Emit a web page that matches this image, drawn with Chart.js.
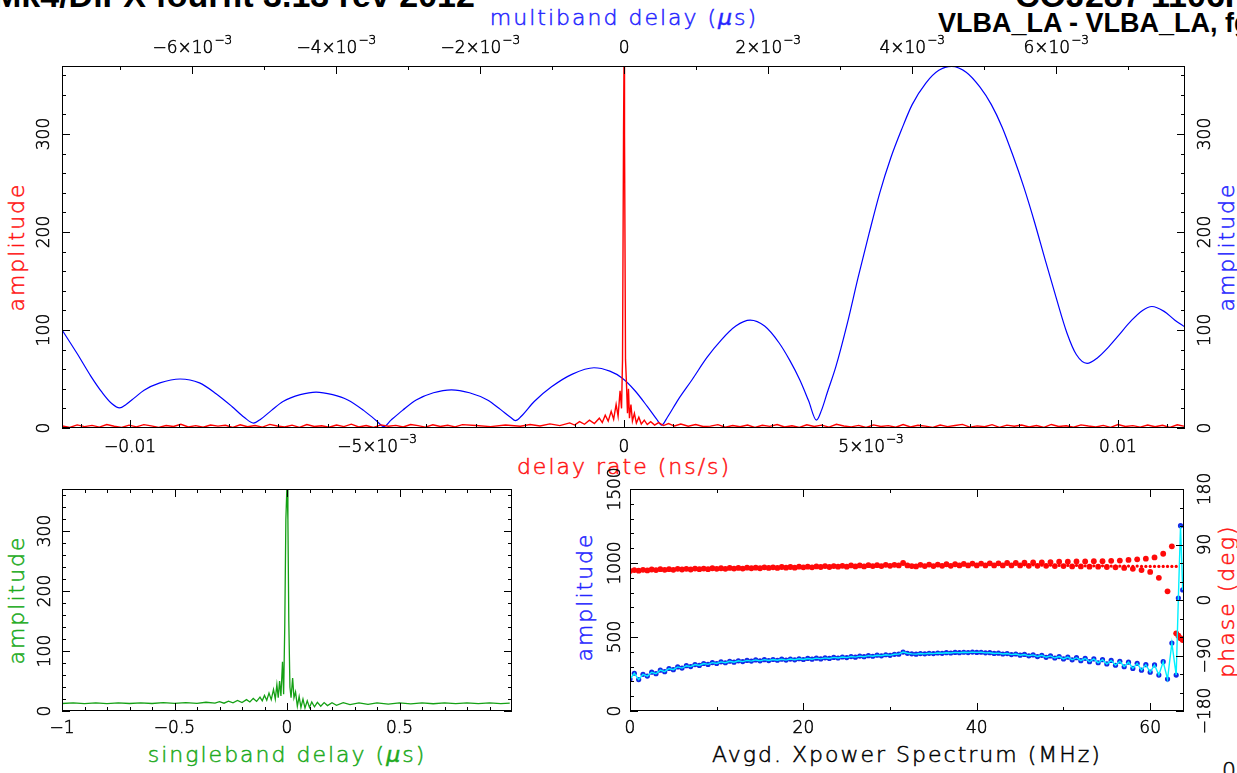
<!DOCTYPE html>
<html><head><meta charset="utf-8">
<script src="https://cdn.jsdelivr.net/npm/chart.js@4.4.1/dist/chart.umd.min.js"></script>
<style>
html,body{margin:0;padding:0;background:#fff;}
body{width:1237px;height:773px;overflow:hidden;position:relative;font-family:"DejaVu Sans",sans-serif;}
canvas{position:absolute;left:0;top:0;}
.t{position:absolute;white-space:nowrap;font-size:22px;line-height:22px;letter-spacing:2px;font-weight:200;-webkit-text-stroke:0.5px currentColor;}
.h{transform:translateX(-50%);}
.r{transform:translate(-50%,-50%) rotate(-90deg);}
.title{position:absolute;white-space:nowrap;font-family:"Liberation Sans",Arial,sans-serif;font-weight:bold;color:#000;}
</style></head>
<body>
<div class="title" style="left:-7px;top:-22px;font-size:34px;line-height:34px;">Mk4/DiFX fourfit 3.13 rev 2012</div>
<div class="title" style="left:1015px;top:-22px;font-size:34px;line-height:34px;">COJ287 1106F CH</div>
<div class="title" style="left:938px;top:10px;font-size:27px;line-height:27px;">VLBA_LA - VLBA_LA, fg</div>
<div class="t h" style="left:624px;top:7px;color:#2626ff;">multiband delay (<i>µ</i>s)</div>
<div class="t h" style="left:624px;top:456px;color:#ff1414;">delay rate (ns/s)</div>
<div class="t r" style="left:17px;top:247px;color:#ff1414;">amplitude</div>
<div class="t r" style="left:1227px;top:247px;color:#2626ff;">amplitude</div>
<div class="t r" style="left:17px;top:600px;color:#20aa20;">amplitude</div>
<div class="t h" style="left:287px;top:744px;color:#20aa20;">singleband delay (<i>µ</i>s)</div>
<div class="t r" style="left:585px;top:597px;color:#2626ff;">amplitude</div>
<div class="t h" style="left:907px;top:744px;color:#000;">Avgd. Xpower Spectrum (MHz)</div>
<div class="t r" style="left:1227px;top:601px;color:#ff1414;">phase (deg)</div>
<div class="t" style="left:1222px;top:760px;color:#000;">09</div>
<canvas id="cTop" width="1237" height="773"></canvas>
<canvas id="cSbd" width="1237" height="773"></canvas>
<canvas id="cSpec" width="1237" height="773"></canvas>
<script>
// ---------------- DATA ----------------
// delay rate function (red), x in ns/s; regular sampling on the flanks, finer near the peak
const rateFloorLeftX = Array.from({length:55},(_,i)=>-0.01137+i*0.00015);
const rateFloorLeftAmp = [2.1,0.6,3.2,1.4,2.7,0.9,3.6,1.8,0.5,2.9,1.2,3.4,2.2,0.7,2.6,1.5,3.8,1.0,2.4,0.8,3.1,1.9,2.8,0.6,3.3,1.3,2.5,0.9,3.7,2.0,1.1,2.9,0.7,3.5,1.6,2.3,0.8,3.0,1.4,3.9,1.0,2.6,0.6,3.2,1.8,2.7,1.1,3.6,2.4,0.9,3.3,1.5,2.8,1.2,3.4];
const rateCoreX = [-0.0030,-0.0027,-0.0024,-0.0021,-0.0019,-0.0017,-0.0015,-0.0013,-0.0011,-0.0010,-0.0009,-0.0008,-0.0007,-0.0006,-0.0005,-0.00044,-0.00038,-0.00032,-0.00026,-0.00021,-0.00016,-0.00012,-0.00008,-0.00005,-0.00003,-0.00001,
 0,0.00001,0.00003,0.00005,0.00007,0.00009,0.00011,0.00014,0.00017,0.00021,0.00025,0.00030,0.00035,0.00041,0.00047,0.00054,0.00062,0.00070,0.00080,0.00090,0.00102,0.00115,0.00130,0.00145,0.0016];
const rateCoreAmp = [2.5,1.4,3.0,1.8,3.6,2.0,4.2,2.4,5.2,3.0,6.5,3.8,8.0,4.5,10,5.5,13,7,17,9,24,12,38,20,70,300,
 375,300,70,45,15,40,10,24,7,15,5,11,4,8,3.5,6.5,3,5.5,2.5,4.5,2,4,1.8,3.5,1.5];
const rateFloorRightX = Array.from({length:65},(_,i)=>0.00175+i*0.00015);
const rateFloorRightAmp = [1.9,3.4,0.8,2.6,1.3,3.1,0.6,2.8,1.7,3.6,1.0,2.3,0.7,3.3,1.5,2.9,0.9,3.8,2.0,1.2,2.7,0.5,3.2,1.6,2.4,0.8,3.5,1.1,2.8,1.9,0.6,3.0,1.4,2.5,3.7,0.9,2.2,1.3,3.4,0.7,2.9,1.8,3.1,1.0,2.6,0.6,3.6,1.5,2.3,0.8,3.2,2.0,1.1,2.7,0.7,3.5,1.6,2.4,0.9,3.0,1.3,2.8,0.6,3.3,1.7];
const rateX = rateFloorLeftX.concat(rateCoreX, rateFloorRightX);
const rateAmp = rateFloorLeftAmp.concat(rateCoreAmp, rateFloorRightAmp);
// multiband delay function (blue), x in microseconds
const mbdX = [-7.80e-3,-7.60e-3,-7.41e-3,-7.25e-3,-7.12e-3,-7.01e-3,-6.92e-3,-6.80e-3,-6.67e-3,-6.45e-3,-6.17e-3,-5.90e-3,-5.67e-3,-5.45e-3,-5.28e-3,-5.15e-3,-5.05e-3,-4.90e-3,-4.74e-3,-4.50e-3,-4.28e-3,-4.05e-3,-3.84e-3,-3.62e-3,-3.45e-3,-3.34e-3,-3.24e-3,-3.08e-3,-2.89e-3,-2.65e-3,-2.40e-3,-2.15e-3,-1.90e-3,-1.72e-3,-1.58e-3,-1.51e-3,-1.43e-3,-1.25e-3,-1.01e-3,-0.72e-3,-0.42e-3,-0.20e-3,-0.03e-3,
 0.15e-3,0.32e-3,0.45e-3,0.52e-3,0.60e-3,0.75e-3,0.94e-3,1.15e-3,1.35e-3,1.55e-3,1.75e-3,1.95e-3,2.15e-3,2.30e-3,2.44e-3,2.56e-3,2.67e-3,2.74e-3,2.82e-3,2.94e-3,3.10e-3,3.25e-3,3.40e-3,3.55e-3,3.70e-3,3.85e-3,4.00e-3,4.19e-3,4.37e-3,4.55e-3,4.75e-3,4.94e-3,5.10e-3,5.25e-3,5.40e-3,5.55e-3,5.70e-3,5.85e-3,6.00e-3,6.15e-3,6.28e-3,6.43e-3,6.58e-3,6.72e-3,6.85e-3,7.05e-3,7.20e-3,7.33e-3,7.50e-3,7.65e-3,7.79e-3];
const mbdAmp = [99,76,53,36,25,20.5,24,31,38.5,46,50,46,35,22,11,5,9,18,27,34,36.7,34,28.6,18,8,1.5,8,18,28.6,36,39,36,28.6,19,11,7.5,12,27,42,55,61.5,58,51,
 38,22,9,3,11,29,49,72,90,104,110,104,87,69,49,28,8,18,36,62.6,107,154,198,240,275,304,330,352,365,369,363,348,330,307,278,246,210,171,133,97,75,66,72,82,93,110,120,124,119,110,103];
// singleband delay function (green), x in microseconds
const sbdX = [-1.0,-0.95,-0.90,-0.85,-0.80,-0.75,-0.70,-0.65,-0.60,-0.55,-0.50,-0.45,-0.40,-0.36,-0.32,-0.30,-0.28,-0.26,-0.24,-0.22,-0.20,-0.18,-0.165,-0.15,-0.135,-0.12,-0.11,-0.10,-0.09,-0.08,-0.07,-0.06,-0.052,-0.045,-0.039,-0.033,-0.027,-0.020,-0.015,-0.010,-0.005,
 0,0.004,0.008,0.013,0.018,0.025,0.031,0.038,0.046,0.054,0.062,0.071,0.080,0.090,0.100,0.110,0.122,0.135,0.150,0.165,0.180,0.20,0.22,0.25,0.28,0.32,0.36,0.40,0.45,0.50,0.55,0.60,0.65,0.70,0.75,0.80,0.85,0.90,0.95,0.99];
const sbdAmp = [12.5,13.4,12.3,13.5,12.4,13.6,12.5,13.7,12.5,13.9,12.6,14.1,12.8,14.6,13.1,15.5,13,16.5,13.5,17.5,14,19,15,21,16,23,17,26,18,30,19,36,20,44,22,50,25,82,28,140,320,
 378,320,150,40,22,55,22,32,8,24,6,20,5,17,6,15,7,14.5,8,14,9,13.8,9.5,13.8,10.5,13.6,11,13.6,11.5,13.6,12,13.6,12.1,13.6,12.2,13.6,12.3,13.6,12.4,13.2];
// averaged cross-power spectrum, 0.5 MHz channels plus the band-edge points
const freqMHz = Array.from({length:126},(_,i)=>i*0.5).concat([63.0,63.25,63.5,63.75]);
const specAmp = [216,255,212,248,236,262,252,276,266,287,
 279,298,290,306,300,314,308,321,315,327,
 321,332,326,336,330,339,334,342,337,345,
 339,347,341,348,343,350,344,351,346,353,
 348,355,350,357,352,359,355,362,358,365,
 361,368,364,371,367,374,370,377,373,380,
 376,383,384,398,390,386,384,388,386,390,
 388,392,390,394,392,396,394,397,395,398,
 396,397,393,394,389,391,385,388,381,385,
 377,382,373,379,368,376,363,372,358,368,
 352,364,346,360,340,356,333,352,326,347,
 318,342,309,336,299,330,288,322,276,313,
 262,311,243,333,216,459,
 243,763,1252,818];
const specPhase = [47,48.5,47.5,49,48,49.5,48.5,50,49,50,
 49,50.5,49.5,50.5,49.5,51,50,51,50,51.5,
 50.5,51.5,50.5,52,51,52,51,52.5,51.5,52.5,
 51.5,53,52,53,52,53.5,52.5,53.5,52.5,54,
 53,54,53,54.5,53.5,55,53.5,55,54,55.5,
 54,56,54.5,56,54.5,56.5,55,56.5,55,57,
 55.5,57,56,60,56,55,54.5,57,55,57.5,
 55,57.5,55.5,58,55.5,58,56,58.5,56,59,
 56,59,56,59.5,56,59.5,56,60,56,60,
 56,60.5,55.5,61,55.5,61,55.5,61.5,55,62,
 55,62,54.5,62.5,54.5,62.5,54,63,54,63,
 53.5,63.5,53,64,52,65,50.5,66,48.5,67,
 45.5,69,36,75,14,87,
 -54,-58,-62,-65];
const fineFreq = Array.from({length:37},(_,i)=>45+i*0.5);
const finePhase = [57,57,56.5,57,56.5,56.5,56,56.5,56,56,56,56,55.5,56,55.5,55.5,55.5,55.5,55,55.5,55,55,55,55,55,55,54.5,55,54.5,54.5,54.5,54.5,54.5,54.5,54.5,54.5,54.5];

// ---------------- TICKS ----------------
const rateMajor = [-0.01,-0.005,0,0.005,0.01];
const rateMinor = [-0.011,-0.009,-0.008,-0.007,-0.006,-0.004,-0.003,-0.002,-0.001,0.001,0.002,0.003,0.004,0.006,0.007,0.008,0.009,0.011];
const rateLabels = ['−0.01','−5×10^−3','0','5×10^−3','0.01'];
const mbdMajor = [-6e-3,-4e-3,-2e-3,0,2e-3,4e-3,6e-3];
const mbdMinor = [-7e-3,-5e-3,-3e-3,-1e-3,1e-3,3e-3,5e-3,7e-3];
const mbdLabels = ['−6×10^−3','−4×10^−3','−2×10^−3','0','2×10^−3','4×10^−3','6×10^−3'];
const ampMajor = [0,100,200,300];
const ampMinor = [20,40,60,80,120,140,160,180,220,240,260,280,320,340,360];
const ampLabels = ['0','100','200','300'];
const sbdMajor = [-1,-0.5,0,0.5];
const sbdMinor = [-0.9,-0.8,-0.7,-0.6,-0.4,-0.3,-0.2,-0.1,0.1,0.2,0.3,0.4,0.6,0.7,0.8,0.9];
const sbdLabels = ['−1','−0.5','0','0.5'];
const freqMajor = [0,20,40,60];
const freqMinor = [10,30,50];
const freqLabels = ['0','20','40','60'];
const xampMajor = [0,500,1000,1500];
const xampMinor = [100,200,300,400,600,700,800,900,1100,1200,1300,1400];
const xampLabels = ['0','500','1000','1500'];
const phMajor = [-180,-90,0,90,180];
const phMinor = [-150,-120,-60,-30,30,60,120,150];
const phLabels = ['−180','−90','0','90','180'];

// ---------------- DRAW HELPERS ----------------
const MAINF = '200 17px "DejaVu Sans"';
const SUPF = '200 12px "DejaVu Sans"';
function txt(ctx, s, x, y) { ctx.fillText(s, x, y); ctx.strokeText(s, x, y); }
function drawLabel(ctx, text, x, y, rot) {
  const parts = text.split('^');
  ctx.save();
  ctx.translate(x, y);
  if (rot) ctx.rotate(-Math.PI/2);
  ctx.fillStyle = '#000'; ctx.strokeStyle = '#000'; ctx.lineWidth = 0.5;
  ctx.textAlign = 'left'; ctx.textBaseline = 'alphabetic';
  ctx.font = MAINF; const wb = ctx.measureText(parts[0]).width;
  let ws = 0;
  if (parts[1]) { ctx.font = SUPF; ws = ctx.measureText(parts[1]).width + 1; }
  const x0 = -(wb + ws) / 2;
  ctx.font = MAINF; txt(ctx, parts[0], x0, 0);
  if (parts[1]) { ctx.font = SUPF; txt(ctx, parts[1], x0 + wb + 1, -9); }
  ctx.restore();
}
const MAJ = 8, MIN = 4;
function axesPlugin(spec) {
  return { id: 'pgAxes', afterDraw(chart) {
    const ctx = chart.ctx, a = chart.chartArea;
    ctx.save();
    ctx.strokeStyle = '#000'; ctx.lineWidth = 1;
    for (const ax of spec) {
      const sc = chart.scales[ax.id];
      const horiz = ax.side === 'top' || ax.side === 'bottom';
      const tick = (v, len) => {
        const p = Math.round(sc.getPixelForValue(v)) + 0.5;
        ctx.beginPath();
        if (ax.side === 'bottom') { ctx.moveTo(p, a.bottom); ctx.lineTo(p, a.bottom - len); }
        else if (ax.side === 'top') { ctx.moveTo(p, a.top); ctx.lineTo(p, a.top + len); }
        else if (ax.side === 'left') { ctx.moveTo(a.left, p); ctx.lineTo(a.left + len, p); }
        else { ctx.moveTo(a.right, p); ctx.lineTo(a.right - len, p); }
        ctx.stroke();
      };
      ax.minor.forEach(v => tick(v, MIN));
      ax.major.forEach(v => tick(v, MAJ));
      if (ax.labels) ax.major.forEach((v, i) => {
        const p = sc.getPixelForValue(v);
        if (horiz) drawLabel(ctx, ax.labels[i], p, ax.at, false);
        else drawLabel(ctx, ax.labels[i], ax.at, p, true);
      });
    }
    ctx.strokeStyle = '#000'; ctx.lineWidth = 1;
    ctx.strokeRect(a.left + 0.5, a.top + 0.5, a.right - a.left - 1, a.bottom - a.top - 1);
    ctx.restore();
  }};
}
const pts = (xs, ys) => xs.map((x, i) => ({x: x, y: ys[i]}));
function opts(pad, scales) {
  return { responsive: false, animation: false, devicePixelRatio: 1, events: [],
    layout: { padding: pad },
    plugins: { legend: { display: false }, tooltip: { enabled: false } },
    scales: scales };
}
const lin = (pos, min, max) => ({ type: 'linear', position: pos, display: false, min: min, max: max });

// ---------------- TOP: delay rate + multiband delay ----------------
new Chart(document.getElementById('cTop'), {
  type: 'line',
  data: { datasets: [
    { data: pts(rateX, rateAmp), xAxisID: 'x', yAxisID: 'y', borderColor: '#ff0000', borderWidth: 1.4, pointRadius: 0, tension: 0 },
    { data: pts(mbdX, mbdAmp), xAxisID: 'x2', yAxisID: 'y2', borderColor: '#0000ff', borderWidth: 1.2, pointRadius: 0, cubicInterpolationMode: 'monotone' }
  ]},
  options: opts({left: 62, top: 66, right: 52, bottom: 345}, {
    x: lin('bottom', -0.011377, 0.011356),
    x2: lin('top', -7.81e-3, 7.79e-3),
    y: lin('left', 0, 369.4),
    y2: lin('right', 0, 369.4)
  }),
  plugins: [axesPlugin([
    {id: 'x', side: 'bottom', major: rateMajor, minor: rateMinor, labels: rateLabels, at: 452},
    {id: 'x2', side: 'top', major: mbdMajor, minor: mbdMinor, labels: mbdLabels, at: 53},
    {id: 'y', side: 'left', major: ampMajor, minor: ampMinor, labels: ampLabels, at: 49},
    {id: 'y2', side: 'right', major: ampMajor, minor: ampMinor, labels: ampLabels, at: 1210}
  ])]
});

// ---------------- BOTTOM LEFT: singleband delay ----------------
new Chart(document.getElementById('cSbd'), {
  type: 'line',
  data: { datasets: [
    { data: pts(sbdX, sbdAmp), borderColor: '#14a014', borderWidth: 1.3, pointRadius: 0, tension: 0 }
  ]},
  options: opts({left: 62, top: 489, right: 725, bottom: 62}, {
    x: lin('bottom', -1, 1.0),
    y: lin('left', 0, 370)
  }),
  plugins: [axesPlugin([
    {id: 'x', side: 'bottom', major: sbdMajor, minor: sbdMinor, labels: sbdLabels, at: 733},
    {id: 'x', side: 'top', major: sbdMajor, minor: sbdMinor},
    {id: 'y', side: 'left', major: ampMajor, minor: ampMinor, labels: ampLabels, at: 50},
    {id: 'y', side: 'right', major: ampMajor, minor: ampMinor}
  ])]
});

// ---------------- BOTTOM RIGHT: Xpower spectrum ----------------
new Chart(document.getElementById('cSpec'), {
  type: 'line',
  data: { datasets: [
    { data: pts(freqMHz, specAmp), yAxisID: 'y', borderColor: '#00f0ff', borderWidth: 1.4, pointRadius: 0, tension: 0 },
    { data: pts(freqMHz, specAmp), yAxisID: 'y', showLine: false, pointRadius: 2.6, pointBorderWidth: 0, pointBackgroundColor: '#1428e6' },
    { data: pts(fineFreq, finePhase), yAxisID: 'yp', showLine: false, pointRadius: 1.6, pointBorderWidth: 0, pointBackgroundColor: '#ff0000' },
    { data: pts(freqMHz, specPhase), yAxisID: 'yp', showLine: false, pointRadius: 2.9, pointBorderWidth: 0, pointBackgroundColor: '#ff0a0a' }
  ]},
  options: opts({left: 630, top: 489, right: 53, bottom: 62}, {
    x: lin('bottom', 0, 63.9),
    y: lin('left', 0, 1500),
    yp: lin('right', -180, 180)
  }),
  plugins: [axesPlugin([
    {id: 'x', side: 'bottom', major: freqMajor, minor: freqMinor, labels: freqLabels, at: 733},
    {id: 'x', side: 'top', major: freqMajor, minor: freqMinor},
    {id: 'y', side: 'left', major: xampMajor, minor: xampMinor, labels: xampLabels, at: 620},
    {id: 'yp', side: 'right', major: phMajor, minor: phMinor, labels: phLabels, at: 1210}
  ])]
});
</script>
</body></html>
